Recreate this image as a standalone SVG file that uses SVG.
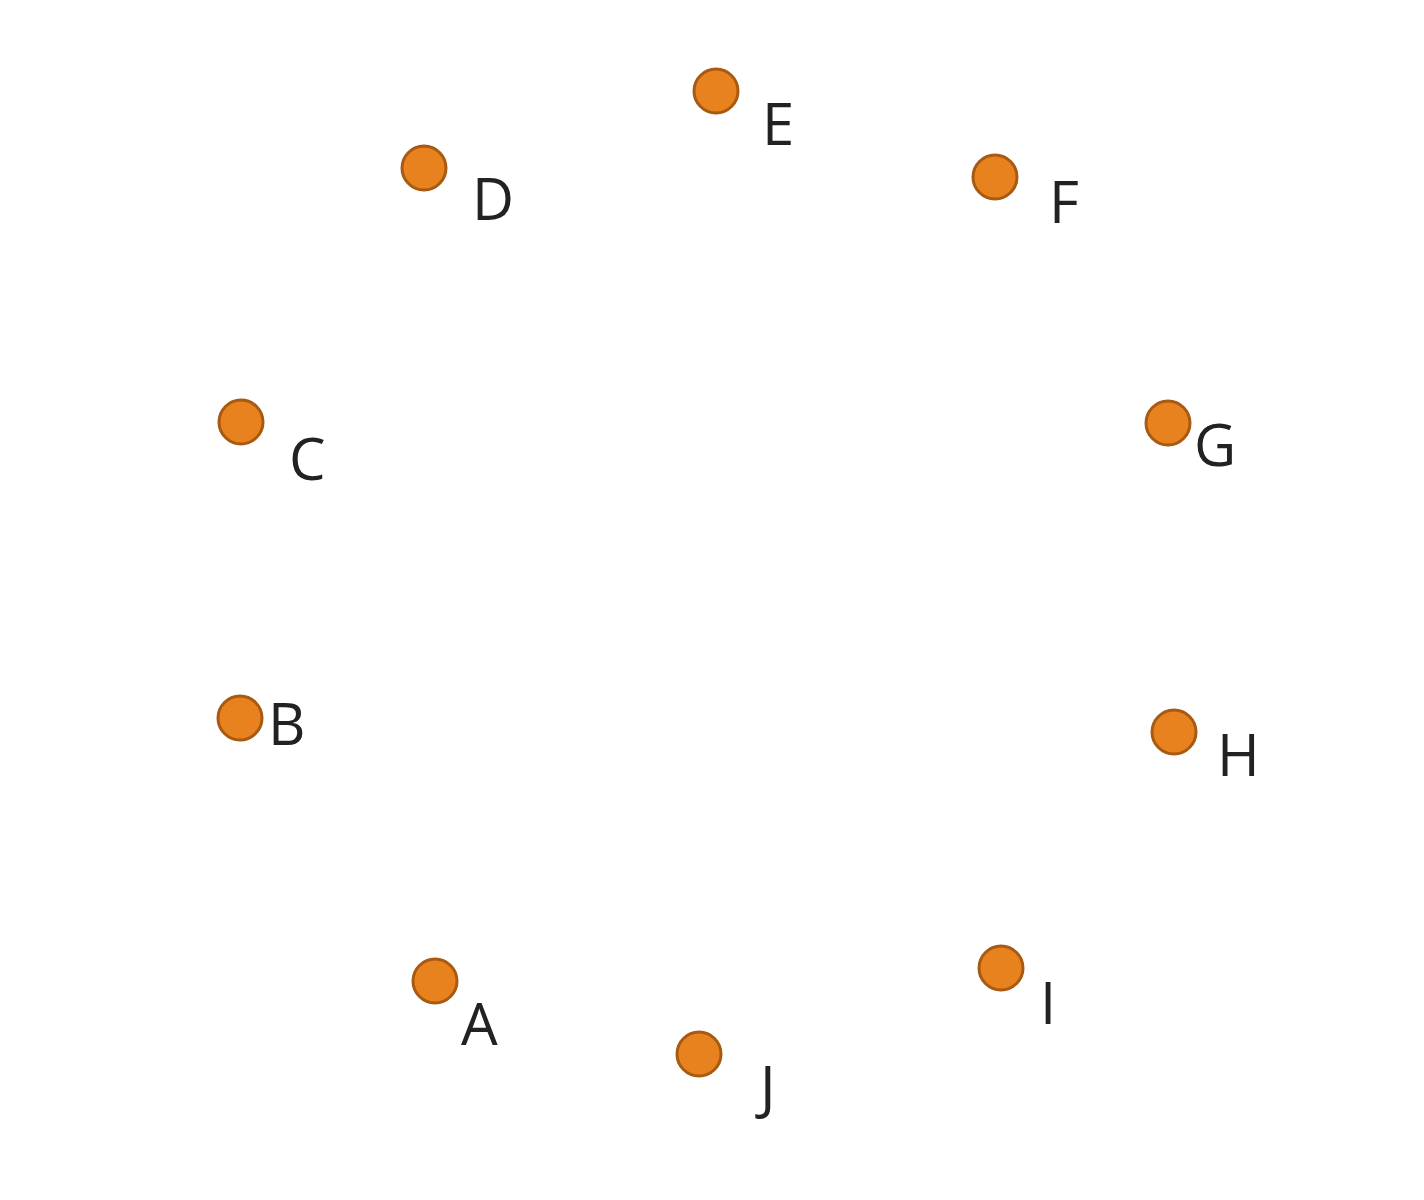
<svg xmlns="http://www.w3.org/2000/svg" width="1424" height="1200" viewBox="0 0 1424 1200">
<style>
.dot{fill:#E8821E;stroke:#A85A12;stroke-width:3}
.lbl{font-family:"Open Sans","Liberation Sans",sans-serif;font-size:58px;fill:#222}
</style>
<rect width="1424" height="1200" fill="#fff"/>
<g id="nodes">
<g id="node-A"><circle class="dot" cx="435" cy="981" r="22"/><text class="lbl" x="461" y="1045">A</text></g>
<g id="node-B"><circle class="dot" cx="240" cy="718" r="22"/><text class="lbl" x="268" y="745">B</text></g>
<g id="node-C"><circle class="dot" cx="241" cy="422" r="22"/><text class="lbl" x="289" y="480">C</text></g>
<g id="node-D"><circle class="dot" cx="424" cy="168" r="22"/><text class="lbl" x="472" y="220">D</text></g>
<g id="node-E"><circle class="dot" cx="716" cy="91" r="22"/><text class="lbl" x="762" y="145">E</text></g>
<g id="node-F"><circle class="dot" cx="995" cy="177" r="22"/><text class="lbl" x="1049" y="223">F</text></g>
<g id="node-G"><circle class="dot" cx="1168" cy="423" r="22"/><text class="lbl" x="1194" y="466">G</text></g>
<g id="node-H"><circle class="dot" cx="1174" cy="732" r="22"/><text class="lbl" x="1217" y="776">H</text></g>
<g id="node-I"><circle class="dot" cx="1001" cy="968" r="22"/><text class="lbl" x="1040" y="1024">I</text></g>
<g id="node-J"><circle class="dot" cx="699" cy="1054" r="22"/><text class="lbl" x="760" y="1108">J</text></g>
</g>
<g id="connectors"></g>
</svg>
